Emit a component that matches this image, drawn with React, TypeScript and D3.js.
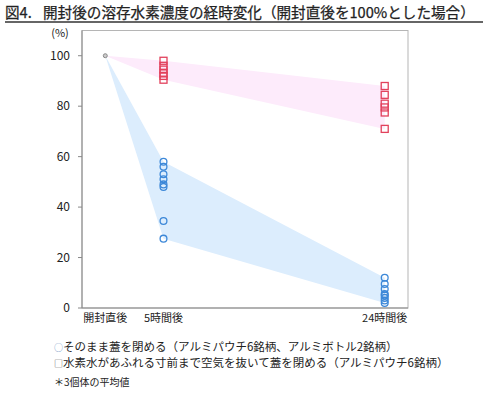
import * as d3 from 'd3'

// hours after opening, and measured hydrogen remaining (%)
const timePoints = [0, 5, 24]
const timeLabels = ['開封直後', '5時間後', '24時間後']
const yTicks = [0, 20, 40, 60, 80, 100]

const startValue = 100
// ○ そのまま蓋を閉める (8 brands)
const closedAs5h = [58, 56, 53, 51, 49, 48, 34.5, 27.5]
const closedAs24h = [12, 9.5, 7.5, 5.5, 5, 4, 3, 2]
// □ 空気を抜いて蓋を閉める (6 brands)
const squeezed5h = [98, 96, 94.5, 93, 92, 90.5]
const squeezed24h = [88, 84.5, 81, 79.5, 77.5, 71]

const legendLines = [
  { mark: '○', text: 'そのまま蓋を閉める（アルミパウチ6銘柄、アルミボトル2銘柄）', color: '#7a9cc8' },
  { mark: '□', text: '水素水があふれる寸前まで空気を抜いて蓋を閉める（アルミパウチ6銘柄）', color: '#555' },
]
const note = '＊3個体の平均値'

const font = '"Noto Sans CJK JP", "Noto Sans", sans-serif'

export default function App() {
  const left = 82
  const right = 408
  const top = 30.5
  const bottom = 308

  const x = d3.scaleLinear().domain([-2, 26]).range([left, right])
  const y = d3.scaleLinear().domain([0, 110]).range([bottom, top])

  const band = (v5: number[], v24: number[]) => {
    const pts: [number, number][] = [
      [x(0), y(startValue)],
      [x(5), y(d3.max(v5)!)],
      [x(24), y(d3.max(v24)!)],
      [x(24), y(d3.min(v24)!)],
      [x(5), y(d3.min(v5)!)],
    ]
    return d3.line()(pts) + 'Z'
  }

  const sq = 7
  const blue = '#3d88d8'
  const red = '#e2415c'

  return (
    <svg
      width={490}
      height={395}
      style={{ position: 'absolute', left: 0, top: 0, background: '#fff' }}
      fontFamily={font}
    >
      <text x={5} y={18} fontSize={14.6} fill="#222" stroke="#222" strokeWidth={0.25}>
        <tspan>図4.</tspan>
        <tspan x={43}>開封後の溶存水素濃度の経時変化（開封直後を100%とした場合）</tspan>
      </text>
      <line x1={5} x2={483} y1={22} y2={22} stroke="#333" strokeWidth={1.3} />

      <rect x={left} y={top} width={right - left} height={bottom - top} fill="none" stroke="#b5b5b5" strokeWidth={1} />

      <path d={band(closedAs5h, closedAs24h)} fill="#dcedfd" />
      <path d={band(squeezed5h, squeezed24h)} fill="#fdebfb" />

      <line x1={left} x2={left} y1={top} y2={bottom} stroke="#888" />
      <line x1={left} x2={right} y1={bottom} y2={bottom} stroke="#888" />

      {yTicks.map(t => (
        <g key={t}>
          <line x1={left - 4} x2={left} y1={y(t)} y2={y(t)} stroke="#888" />
          <text x={70} y={y(t)} dy="0.35em" fontSize={12} textAnchor="end" fill="#222">
            {t}
          </text>
        </g>
      ))}
      <text x={60} y={33} dy="0.35em" fontSize={11} textAnchor="middle" fill="#222">
        (%)
      </text>

      {timePoints.map((t, i) => (
        <text key={t} x={x(t)} y={318} dy="0.35em" fontSize={11} textAnchor="middle" fill="#222">
          {timeLabels[i]}
        </text>
      ))}

      {closedAs5h.map((v, i) => (
        <circle key={'c5' + i} cx={x(5)} cy={y(v)} r={3.4} fill="none" stroke={blue} strokeWidth={1.3} />
      ))}
      {closedAs24h.map((v, i) => (
        <circle key={'c24' + i} cx={x(24)} cy={y(v)} r={3.4} fill="none" stroke={blue} strokeWidth={1.3} />
      ))}
      {squeezed5h.map((v, i) => (
        <rect key={'s5' + i} x={x(5) - sq / 2} y={y(v) - sq / 2} width={sq} height={sq} fill="none" stroke={red} strokeWidth={1.3} />
      ))}
      {squeezed24h.map((v, i) => (
        <rect key={'s24' + i} x={x(24) - sq / 2} y={y(v) - sq / 2} width={sq} height={sq} fill="none" stroke={red} strokeWidth={1.3} />
      ))}
      <circle cx={x(0)} cy={y(startValue)} r={2} fill="#ccc" stroke="#888" strokeWidth={1} />

      {legendLines.map((l, i) => (
        <text key={i} x={54} y={347 + i * 16} dy="0.35em" fontSize={11.5} fill="#222">
          <tspan fill={l.color} fontSize={9}>{l.mark}</tspan>
          <tspan x={63}>{l.text}</tspan>
        </text>
      ))}
      <text x={54} y={382} dy="0.35em" fontSize={10} fill="#222">
        {note}
      </text>
    </svg>
  )
}
